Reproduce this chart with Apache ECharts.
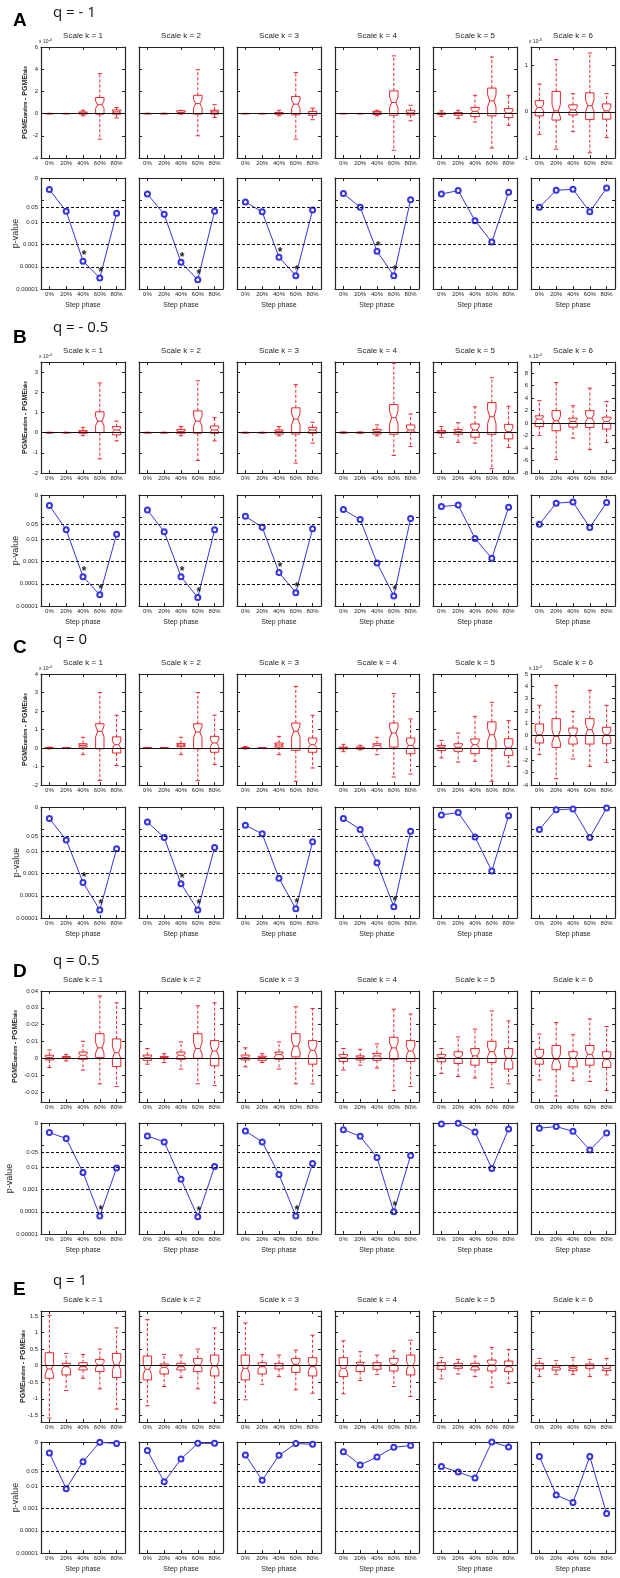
<!DOCTYPE html>
<html><head><meta charset="utf-8">
<script src="https://cdn.jsdelivr.net/npm/echarts@6/dist/echarts.min.js"></script>
<style>html,body{margin:0;padding:0;background:#fff}#c{width:620px;height:1578px}</style>
</head><body><div id="c"></div>
<script>
// ---------- data ----------
const phases = ['0%', '20%', '40%', '60%', '80%'];
const scaleNames = ['Scale k = 1', 'Scale k = 2', 'Scale k = 3', 'Scale k = 4', 'Scale k = 5', 'Scale k = 6'];
const panelLetters = ['A', 'B', 'C', 'D', 'E'];
const qLabels = ['q = - 1', 'q = - 0.5', 'q = 0', 'q = 0.5', 'q = 1'];

// box stats per scale k (rows) and step phase (cols): [lowWhisker, q1, median, q3, highWhisker]
const boxA = [
  [[-0.03,-0.01,0,0.01,0.03],[-0.02,-0.01,0,0.01,0.02],[-0.2,-0.05,0.05,0.15,0.3],[-2.3,-0.05,0.8,1.45,3.6],[-0.4,-0.05,0.15,0.33,0.55]],
  [[-0.03,-0.02,0,0.02,0.03],[-0.03,-0.02,0,0.02,0.03],[-0.05,0,0.1,0.25,0.3],[-2.0,-0.05,0.9,1.65,3.95],[-0.35,-0.05,0.15,0.3,0.8]],
  [[-0.02,-0.01,0,0.01,0.02],[-0.02,-0.01,0,0.01,0.02],[-0.2,-0.05,0,0.1,0.3],[-2.3,-0.1,0.85,1.55,3.7],[-0.55,-0.15,0,0.2,0.5]],
  [[-0.02,-0.01,0,0.01,0.02],[-0.02,-0.01,0,0.01,0.02],[-0.2,-0.08,0.05,0.2,0.3],[-3.3,-0.15,1.0,2.05,5.2],[-0.65,-0.12,0.05,0.3,0.75]],
  [[-0.25,-0.08,0,0.05,0.25],[-0.45,-0.15,0,0.1,0.3],[-0.75,-0.27,0.2,0.55,1.65],[-3.1,-0.2,1.15,2.3,5.1],[-1.05,-0.36,0.05,0.45,1.65]],
  [[-0.49,-0.09,0.09,0.24,0.6],[-0.81,-0.18,0.02,0.44,1.13],[-0.43,-0.07,0.04,0.15,0.39],[-0.89,-0.17,0.13,0.41,1.27],[-0.56,-0.16,0.02,0.17,0.39]]
];
const boxB = [
  [[-0.02,-0.01,0,0.01,0.02],[-0.02,-0.01,0,0.01,0.02],[-0.15,-0.03,0.03,0.1,0.26],[-1.3,0,0.57,1.03,2.46],[-0.41,-0.11,0.13,0.3,0.57]],
  [[-0.02,-0.01,0,0.01,0.02],[-0.02,-0.01,0,0.01,0.02],[-0.16,-0.03,0.05,0.16,0.3],[-1.38,-0.03,0.57,1.08,2.57],[-0.41,-0.03,0.13,0.33,0.74]],
  [[-0.02,-0.01,0,0.01,0.02],[-0.02,-0.01,0,0.01,0.02],[-0.16,-0.07,0.05,0.13,0.3],[-1.51,-0.07,0.67,1.23,2.38],[-0.52,-0.03,0.13,0.26,0.51]],
  [[-0.03,-0.01,0,0.02,0.03],[-0.03,-0.01,0,0.02,0.03],[-0.16,-0.07,0.05,0.16,0.38],[-1.13,-0.08,0.74,1.39,3.44],[-0.69,0.02,0.13,0.38,0.92]],
  [[-0.23,-0.03,0.03,0.1,0.3],[-0.48,-0.08,0.05,0.16,0.49],[-0.52,-0.23,0.13,0.43,1.28],[-1.79,-0.08,0.79,1.49,2.72],[-0.74,-0.31,0.05,0.41,1.31]],
  [[-1.97,-0.53,0.64,1.17,3.6],[-5.85,-1.22,0.37,2.0,6.5],[-2.4,-0.64,0.27,0.8,2.77],[-4.26,-0.69,0.8,2.0,5.6],[-3.1,-0.96,0.27,0.96,3.46]]
];
const boxC = [
  [[-0.05,-0.02,0,0.02,0.05],[-0.02,-0.01,0,0.01,0.02],[-0.36,0.05,0.14,0.23,0.58],[-1.75,-0.04,0.9,1.31,3.0],[-0.95,-0.27,0.18,0.6,1.77]],
  [[-0.03,-0.02,0,0.02,0.03],[-0.02,-0.01,0,0.01,0.02],[-0.36,0.07,0.16,0.25,0.58],[-1.77,-0.04,0.86,1.31,3.0],[-0.9,-0.23,0.27,0.63,1.77]],
  [[-0.05,-0.02,0,0.02,0.08],[-0.02,-0.01,0,0.01,0.02],[-0.36,0.05,0.16,0.27,0.63],[-1.8,-0.13,0.9,1.35,3.33],[-1.08,-0.23,0.18,0.54,1.77]],
  [[-0.2,-0.05,0,0.05,0.2],[-0.1,-0.05,0,0.05,0.15],[-0.36,-0.04,0.14,0.23,0.58],[-1.57,0.05,0.81,1.35,2.94],[-1.41,-0.31,0.14,0.54,1.57]],
  [[-0.54,-0.14,0.04,0.14,0.41],[-0.76,-0.18,0.04,0.23,0.81],[-0.72,-0.31,0.18,0.49,1.71],[-1.8,-0.05,0.72,1.41,2.47],[-0.99,-0.41,0,0.5,1.48]],
  [[-1.54,-0.59,0.08,0.95,2.46],[-3.49,-0.95,-0.05,1.38,4.08],[-1.89,-0.68,0,0.62,1.97],[-2.49,-0.68,0.49,1.38,3.68],[-2.16,-0.65,0.08,0.68,2.46]]
];
const boxD = [
  [[-0.0055,-0.001,0.0004,0.0018,0.0049],[-0.0016,-0.0002,0.0004,0.001,0.0023],[-0.007,-0.0006,0.0018,0.0037,0.0101],[-0.0152,0.0004,0.0062,0.0146,0.037],[-0.0168,-0.0049,0.0033,0.0115,0.033]],
  [[-0.0035,-0.0012,0.0004,0.0019,0.0058],[-0.0025,-0.0002,0.0004,0.001,0.0027],[-0.0064,-0.0006,0.0018,0.0037,0.0097],[-0.0152,0,0.0058,0.0146,0.0312],[-0.0162,-0.0045,0.0043,0.0105,0.033]],
  [[-0.0051,-0.001,0.0004,0.0019,0.0062],[-0.0025,-0.0012,0.0004,0.0012,0.0027],[-0.0064,-0.0006,0.0023,0.0037,0.0097],[-0.0152,0.0008,0.0072,0.0146,0.0306],[-0.0152,-0.0035,0.0047,0.0105,0.0296]],
  [[-0.007,-0.0019,0.0004,0.0023,0.0058],[-0.0041,-0.001,0.0004,0.0014,0.0053],[-0.0058,-0.0012,0.0014,0.0029,0.0086],[-0.0191,-0.0006,0.0062,0.0125,0.0292],[-0.0168,-0.0019,0.0043,0.0105,0.0263]],
  [[-0.009,-0.0021,0.0004,0.0023,0.0058],[-0.0109,-0.0031,0.0004,0.0039,0.0127],[-0.0117,-0.0041,0.0014,0.0058,0.0173],[-0.0175,-0.0025,0.0039,0.0101,0.0281],[-0.0152,-0.0064,0,0.0058,0.0222]],
  [[-0.0129,-0.0035,0.0004,0.0053,0.0144],[-0.0224,-0.0068,-0.0006,0.0076,0.0212],[-0.0133,-0.0051,0,0.0039,0.014],[-0.0138,-0.0041,0.0023,0.0076,0.0234],[-0.0191,-0.0055,-0.0006,0.0039,0.0189]]
];
const boxE = [
  [[-1.58,-0.38,-0.1,0.39,1.52],[-0.75,-0.28,-0.03,0.07,0.37],[-0.38,-0.13,-0.03,0.09,0.34],[-0.7,-0.18,0.02,0.19,0.5],[-1.31,-0.36,0.02,0.37,1.14]],
  [[-1.21,-0.43,-0.11,0.29,1.39],[-0.63,-0.25,-0.05,0.05,0.34],[-0.36,-0.13,-0.03,0.07,0.32],[-0.7,-0.18,0.02,0.22,0.5],[-1.13,-0.31,-0.01,0.32,1.14]],
  [[-1.03,-0.43,-0.08,0.32,1.29],[-0.56,-0.25,-0.03,0.09,0.34],[-0.33,-0.1,0,0.07,0.32],[-0.73,-0.2,0.04,0.22,0.47],[-0.83,-0.31,-0.03,0.24,0.92]],
  [[-0.85,-0.33,-0.08,0.24,0.75],[-0.45,-0.18,0.02,0.1,0.42],[-0.26,-0.11,0,0.09,0.32],[-0.63,-0.16,0.04,0.22,0.45],[-0.93,-0.28,0,0.32,0.77]],
  [[-0.4,-0.11,0,0.09,0.24],[-0.25,-0.08,-0.01,0.07,0.19],[-0.33,-0.13,-0.03,0.07,0.29],[-0.65,-0.16,0.02,0.17,0.55],[-0.53,-0.18,-0.03,0.14,0.49]],
  [[-0.33,-0.1,0,0.07,0.22],[-0.26,-0.13,-0.05,0,0.15],[-0.26,-0.15,-0.08,-0.03,0.25],[-0.33,-0.08,0,0.05,0.19],[-0.28,-0.15,-0.08,0,0.22]]
];

// p-values per scale k (rows) and step phase (cols)
const pA = [[0.30,0.032,1.8e-4,3.1e-5,0.026],[0.19,0.023,1.6e-4,2.6e-5,0.032],[0.083,0.030,2.7e-4,4.0e-5,0.036],[0.20,0.048,5.0e-4,4.0e-5,0.105],[0.19,0.27,0.012,0.0013,0.23],[0.048,0.28,0.31,0.030,0.35]];
const pB = [[0.34,0.027,2.1e-4,3.2e-5,0.017],[0.21,0.022,2.1e-4,2.4e-5,0.027],[0.11,0.035,3.2e-4,4.0e-5,0.030],[0.22,0.078,8.7e-4,2.8e-5,0.087],[0.30,0.35,0.011,0.0014,0.28],[0.048,0.43,0.48,0.034,0.46]];
const pC = [[0.30,0.033,4.0e-4,2.3e-5,0.013],[0.21,0.042,3.5e-4,2.3e-5,0.015],[0.15,0.062,6.2e-4,2.6e-5,0.027],[0.30,0.098,0.0031,3.2e-5,0.080],[0.44,0.56,0.045,0.0013,0.40],[0.098,0.76,0.81,0.042,0.90]];
const pD = [[0.37,0.20,0.0059,6.5e-5,0.0095],[0.26,0.14,0.0029,6.0e-5,0.011],[0.44,0.14,0.0048,6.5e-5,0.015],[0.50,0.25,0.028,1.0e-4,0.034],[0.90,0.97,0.39,0.0089,0.54],[0.58,0.69,0.42,0.061,0.35]];
const pE = [[0.32,0.0079,0.13,0.97,0.85],[0.41,0.016,0.17,0.87,0.87],[0.26,0.019,0.25,0.85,0.79],[0.36,0.093,0.21,0.58,0.69],[0.079,0.044,0.024,1.0,0.60],[0.22,0.0041,0.0019,0.22,6.0e-4]];

// significance stars (1 = star shown)
const starA = [[0,0,1,1,0],[0,0,1,1,0],[0,0,1,1,0],[0,0,1,1,0],[0,0,0,0,0],[0,0,0,0,0]];
const starB = [[0,0,1,1,0],[0,0,1,1,0],[0,0,1,1,0],[0,0,0,1,0],[0,0,0,0,0],[0,0,0,0,0]];
const starC = [[0,0,1,1,0],[0,0,1,1,0],[0,0,0,1,0],[0,0,0,1,0],[0,0,0,0,0],[0,0,0,0,0]];
const starD = [[0,0,0,1,0],[0,0,0,1,0],[0,0,0,1,0],[0,0,0,1,0],[0,0,0,0,0],[0,0,0,0,0]];
const starE = [[0,0,0,0,0],[0,0,0,0,0],[0,0,0,0,0],[0,0,0,0,0],[0,0,0,0,0],[0,0,0,0,0]];

// axis ranges and tick labels
const boxRangeA = [-4, 6], boxTicksA = [-4, -2, 0, 2, 4, 6];
const boxRangeA6 = [-1, 1.4], boxTicksA6 = [-1, 0, 1];
const boxRangeB = [-2, 3.5], boxTicksB = [-2, -1, 0, 1, 2, 3];
const boxRangeB6 = [-8, 9.8], boxTicksB6 = [-8, -6, -4, -2, 0, 2, 4, 6, 8];
const boxRangeC = [-2, 4], boxTicksC = [-2, -1, 0, 1, 2, 3, 4];
const boxRangeC6 = [-4, 5], boxTicksC6 = [-4, -3, -2, -1, 0, 1, 2, 3, 4, 5];
const boxRangeD = [-0.026, 0.04], boxTicksD = [-0.02, -0.01, 0, 0.01, 0.02, 0.03, 0.04];
const boxRangeE = [-1.7, 1.65], boxTicksE = [-1.5, -1, -0.5, 0, 0.5, 1, 1.5];
const multExp = ['-4', '-4', '-4', null, null];
const multExp6 = ['-3', '-4', '-4', null, null];
const pRange = [0.00001, 1];
const pRefLines = [0.05, 0.01, 0.001, 0.0001];
const pDecadeLabels = {'0': '0', '-1': '', '-2': '0.01', '-3': '0.001', '-4': '0.0001', '-5': '0.00001'};

// ---------- layout & style ----------
const FONT = 'Liberation Sans, Arial, sans-serif';
const RED = '#e4262b', BLUE = '#3535dd', INK = '#262626';
const GL = 41, GS = 98, GW = 84, GH = 111;
const boxTops = [47, 362, 674, 991, 1311];
const pTops = [178, 495, 807, 1123, 1442];
const letterY = [21, 338, 648, 972, 1290];
const qY = [13, 328, 640, 961, 1281];
const pgmeX = [25, 25, 25, 15, 23];
const pvX = [16, 16, 17, 10, 16];

const panels = [
  {box: boxA, p: pA, star: starA, range: boxRangeA, ticks: boxTicksA, range6: boxRangeA6, ticks6: boxTicksA6},
  {box: boxB, p: pB, star: starB, range: boxRangeB, ticks: boxTicksB, range6: boxRangeB6, ticks6: boxTicksB6},
  {box: boxC, p: pC, star: starC, range: boxRangeC, ticks: boxTicksC, range6: boxRangeC6, ticks6: boxTicksC6},
  {box: boxD, p: pD, star: starD, range: boxRangeD, ticks: boxTicksD, range6: null, ticks6: null},
  {box: boxE, p: pE, star: starE, range: boxRangeE, ticks: boxTicksE, range6: null, ticks6: null}
];

const grids = [], xAxes = [], yAxes = [], series = [], graphics = [];
const lineAx = {show: true, onZero: false, lineStyle: {color: INK, width: 1.2}};
const tickIn = {show: true, inside: true, length: 3, lineStyle: {color: INK, width: 1}};

function addXAxes(gi, withName) {
  const xi = xAxes.length;
  xAxes.push({gridIndex: gi, type: 'category', data: phases, position: 'bottom', boundaryGap: true,
    axisLine: lineAx, axisTick: Object.assign({alignWithLabel: true}, tickIn),
    axisLabel: {show: true, interval: 0, fontSize: 6, margin: 2, color: INK, fontFamily: FONT},
    splitLine: {show: false},
    name: withName ? 'Step phase' : '', nameLocation: 'middle', nameGap: 13,
    nameTextStyle: {fontSize: 7, color: INK, fontFamily: FONT}});
  xAxes.push({gridIndex: gi, type: 'category', data: phases, position: 'top', boundaryGap: true,
    axisLine: lineAx, axisTick: Object.assign({alignWithLabel: true}, tickIn),
    axisLabel: {show: false}, splitLine: {show: false}});
  return xi;
}

function boxYAxes(gi, range, ticks, showLabels, exp) {
  const yi = yAxes.length;
  const left = {gridIndex: gi, type: 'value', position: 'left', min: range[0], max: range[1],
    axisLine: lineAx, axisTick: Object.assign({customValues: ticks}, tickIn),
    axisLabel: {show: showLabels, customValues: ticks, fontSize: 6, margin: 3, color: INK, fontFamily: FONT,
      formatter: v => String(v)},
    splitLine: {show: false}};
  if (exp) {
    left.name = 'x 10{sup|' + exp + '}';
    left.nameLocation = 'end';
    left.nameGap = 2;
    left.nameTextStyle = {fontSize: 5, color: INK, fontFamily: FONT, align: 'left', padding: [0, 0, 0, -2],
      rich: {sup: {fontSize: 4, color: INK, fontFamily: FONT, verticalAlign: 'top', padding: [0, 0, 3, 0]}}};
  }
  yAxes.push(left);
  yAxes.push({gridIndex: gi, type: 'value', position: 'right', min: range[0], max: range[1],
    axisLine: lineAx, axisTick: Object.assign({customValues: ticks}, tickIn),
    axisLabel: {show: false}, splitLine: {show: false}});
  return yi;
}

function pYAxes(gi, showLabels) {
  const yi = yAxes.length;
  const base = {gridIndex: gi, type: 'log', logBase: 10, min: pRange[0], max: pRange[1],
    axisLine: lineAx, axisTick: tickIn, splitLine: {show: false}, minorTick: {show: false}};
  yAxes.push(Object.assign({}, base, {position: 'left',
    axisLabel: {show: showLabels, fontSize: 6, margin: 3, color: INK, fontFamily: FONT,
      formatter: v => pDecadeLabels[String(Math.round(Math.log10(v)))] || ''}}));
  yAxes.push(Object.assign({}, base, {position: 'right', axisLabel: {show: false}}));
  return yi;
}

function renderBox(params, api) {
  const idx = api.value(0);
  const lo = api.value(1), q1 = api.value(2), med = api.value(3), q3 = api.value(4), hi = api.value(5);
  const band = api.size([1, 0])[0];
  const hw = band * 0.25, inset = hw * 0.5, cap = hw * 0.5;
  const cx = api.coord([idx, med])[0];
  const y = v => api.coord([idx, v])[1];
  const nh = 0.22 * (q3 - q1);
  const yq1 = y(q1), yq3 = y(q3), ym = y(med), yn1 = y(med - nh), yn2 = y(med + nh), ylo = y(lo), yhi = y(hi);
  const st = {stroke: RED, fill: 'none', lineWidth: 1};
  const dash = {stroke: RED, lineWidth: 1, lineDash: [3, 2]};
  return {type: 'group', children: [
    {type: 'line', shape: {x1: cx, y1: yq3, x2: cx, y2: yhi}, style: dash},
    {type: 'line', shape: {x1: cx, y1: yq1, x2: cx, y2: ylo}, style: dash},
    {type: 'line', shape: {x1: cx - cap, y1: yhi, x2: cx + cap, y2: yhi}, style: st},
    {type: 'line', shape: {x1: cx - cap, y1: ylo, x2: cx + cap, y2: ylo}, style: st},
    {type: 'polygon', shape: {points: [
      [cx - hw, yq1], [cx - hw, yn1], [cx - hw + inset, ym], [cx - hw, yn2], [cx - hw, yq3],
      [cx + hw, yq3], [cx + hw, yn2], [cx + hw - inset, ym], [cx + hw, yn1], [cx + hw, yq1]]}, style: st},
    {type: 'line', shape: {x1: cx - hw + inset, y1: ym, x2: cx + hw - inset, y2: ym}, style: st}
  ]};
}

panels.forEach((P, pi) => {
  // texts
  graphics.push({type: 'text', x: 13, y: letterY[pi], style: {text: panelLetters[pi], fontSize: 19, fontWeight: 'bold',
    fontFamily: FONT, fill: '#000', verticalAlign: 'middle'}});
  graphics.push({type: 'text', x: 53, y: qY[pi], style: {text: qLabels[pi], fontSize: 15,
    fontFamily: 'Open Sans, ' + FONT, fill: '#111', verticalAlign: 'middle'}});
  graphics.push({type: 'text', x: pgmeX[pi], y: boxTops[pi] + GH / 2, rotation: Math.PI / 2,
    style: {text: 'PGME{s|random} - PGME{s|fake}', fontSize: 7, fontWeight: 'bold', fontFamily: FONT, fill: INK,
      align: 'center', verticalAlign: 'middle',
      rich: {s: {fontSize: 4.5, fontWeight: 'bold', fontFamily: FONT, fill: INK, verticalAlign: 'bottom'}}}});
  graphics.push({type: 'text', x: pvX[pi], y: pTops[pi] + GH / 2, rotation: Math.PI / 2,
    style: {text: 'p-value', fontSize: 9, fontFamily: FONT, fill: INK, align: 'center', verticalAlign: 'middle'}});

  for (let k = 0; k < 6; k++) {
    const left = GL + GS * k;
    graphics.push({type: 'text', x: left + GW / 2, y: boxTops[pi] - 11,
      style: {text: scaleNames[k], fontSize: 8, fontFamily: FONT, fill: INK, align: 'center', verticalAlign: 'middle'}});

    // box grid
    const gb = grids.length;
    grids.push({left: left, top: boxTops[pi], width: GW, height: GH});
    const xb = addXAxes(gb, false);
    const own6 = (k === 5 && P.range6);
    const range = own6 ? P.range6 : P.range;
    const ticks = own6 ? P.ticks6 : P.ticks;
    const showLab = (k === 0) || own6;
    const exp = k === 0 ? multExp[pi] : (own6 ? multExp6[pi] : null);
    const yb = boxYAxes(gb, range, ticks, !!showLab, exp);
    series.push({type: 'line', xAxisIndex: xb, yAxisIndex: yb, data: [], z: 1,
      markLine: {silent: true, animation: false, precision: 6, symbol: ['none', 'none'], label: {show: false},
        lineStyle: {color: '#111', width: 1.2, type: 'solid'}, data: [{yAxis: 0}]}});
    series.push({type: 'custom', xAxisIndex: xb, yAxisIndex: yb, z: 3,
      data: P.box[k].map((b, i) => [i, b[0], b[1], b[2], b[3], b[4]]),
      encode: {x: 0, y: [1, 2, 3, 4, 5]}, renderItem: renderBox});

    // p-value grid
    const gp = grids.length;
    grids.push({left: left, top: pTops[pi], width: GW, height: GH});
    const xp = addXAxes(gp, true);
    const yp = pYAxes(gp, k === 0);
    series.push({type: 'line', xAxisIndex: xp, yAxisIndex: yp, z: 3,
      data: P.p[k].map((v, i) => ({value: v, label: {show: !!P.star[k][i]}})),
      symbol: 'emptyCircle', symbolSize: 5,
      lineStyle: {color: BLUE, width: 1}, itemStyle: {color: BLUE, borderWidth: 1},
      label: {show: false, position: 'inside', formatter: '*', offset: [1, -5], fontSize: 12, fontWeight: 'bold',
        color: '#222', fontFamily: FONT},
      markLine: {silent: true, animation: false, precision: 8, symbol: ['none', 'none'],
        lineStyle: {color: '#111', width: 1.2, type: [3, 2]},
        data: pRefLines.map(v => ({yAxis: v, label: {show: k === 0 && v === 0.05, position: 'start', distance: 3,
          formatter: String(v), fontSize: 6, color: INK, fontFamily: FONT}}))}});
  }
});

const chart = echarts.init(document.getElementById('c'), null, {renderer: 'canvas'});
chart.setOption({
  animation: false,
  backgroundColor: '#fff',
  grid: grids, xAxis: xAxes, yAxis: yAxes, series: series, graphic: graphics
});
</script>
</body></html>
